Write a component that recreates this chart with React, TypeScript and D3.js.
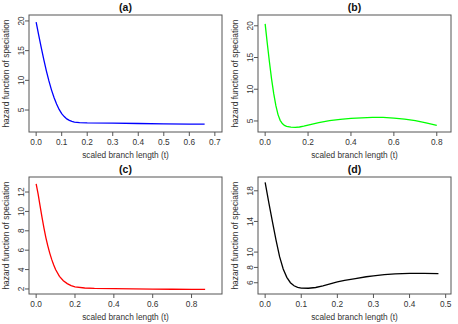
import React from "react";
import * as d3 from "d3";

const titles = ["(a)", "(b)", "(c)", "(d)"];
const colors = ["#0000FF", "#00FF00", "#FF0000", "#000000"];
const xLabel = "scaled branch length (t)";
const yLabel = "hazard function of speciation";

// x limits (before 4% padding)
const xLims: [number, number][] = [[0, 0.7], [0, 0.833], [0, 0.92], [0, 0.495]];
// y plot limits (already padded)
const yLims: [number, number][] = [[1.3, 21], [3.26, 21.7], [1.48, 13.55], [4.53, 19.8]];

const xTicks = [
  [0, 0.1, 0.2, 0.3, 0.4, 0.5, 0.6, 0.7],
  [0, 0.2, 0.4, 0.6, 0.8],
  [0, 0.2, 0.4, 0.6, 0.8],
  [0, 0.1, 0.2, 0.3, 0.4, 0.5],
];
const yTicks = [
  [5, 10, 15, 20],
  [5, 10, 15, 20],
  [2, 4, 6, 8, 10, 12],
  [6, 8, 10, 14, 18],
];

const tA = [0, 0.01, 0.02, 0.03, 0.04, 0.05, 0.06, 0.07, 0.08, 0.09, 0.1, 0.11, 0.12, 0.13, 0.14, 0.15, 0.17, 0.2, 0.3, 0.4, 0.5, 0.6, 0.66];
const hA = [19.8, 17.6, 15.5, 13.5, 11.6, 9.9, 8.4, 7.1, 6.0, 5.1, 4.4, 3.9, 3.5, 3.25, 3.08, 2.98, 2.88, 2.83, 2.78, 2.73, 2.68, 2.64, 2.62];

const tB = [0, 0.01, 0.02, 0.03, 0.04, 0.05, 0.06, 0.07, 0.08, 0.09, 0.1, 0.12, 0.14, 0.16, 0.18, 0.2, 0.25, 0.3, 0.35, 0.4, 0.45, 0.5, 0.55, 0.6, 0.65, 0.7, 0.75, 0.8];
const hB = [20.3, 17.2, 14.3, 11.6, 9.3, 7.4, 6.0, 5.1, 4.6, 4.3, 4.15, 4.03, 4.0, 4.05, 4.18, 4.35, 4.75, 5.05, 5.25, 5.4, 5.5, 5.55, 5.55, 5.45, 5.3, 5.05, 4.7, 4.3];

const tC = [0, 0.01, 0.02, 0.03, 0.04, 0.05, 0.06, 0.07, 0.08, 0.09, 0.1, 0.12, 0.14, 0.16, 0.18, 0.2, 0.25, 0.3, 0.4, 0.5, 0.6, 0.7, 0.8, 0.87];
const hC = [12.85, 11.8, 10.6, 9.4, 8.3, 7.3, 6.45, 5.7, 5.05, 4.5, 4.0, 3.3, 2.85, 2.55, 2.35, 2.22, 2.1, 2.06, 2.03, 2.0, 1.98, 1.97, 1.96, 1.95];

const tD = [0, 0.01, 0.02, 0.03, 0.04, 0.05, 0.06, 0.07, 0.08, 0.09, 0.1, 0.12, 0.14, 0.16, 0.18, 0.2, 0.22, 0.25, 0.28, 0.3, 0.33, 0.36, 0.4, 0.44, 0.48];
const hD = [19.1, 16.5, 14.0, 11.6, 9.4, 7.8, 6.7, 6.0, 5.6, 5.4, 5.3, 5.28, 5.38, 5.6, 5.85, 6.1, 6.3, 6.55, 6.78, 6.9, 7.05, 7.15, 7.22, 7.22, 7.18];

const times = [tA, tB, tC, tD];
const hazards = [hA, hB, hC, hD];

const W = 458, H = 324;
const PW = 229, PH = 162;
const box = { l: 29, r: 222, t: 15, b: 132 };
const font = "Liberation Sans, Arial, Helvetica, sans-serif";
const axisColor = "#555";
const textColor = "#333";

function Panel({ i }: { i: number }) {
  const ox = (i % 2) * PW;
  const oy = Math.floor(i / 2) * PH;
  const [x0, x1] = xLims[i];
  const pad = (x1 - x0) * 0.04;
  const x = d3.scaleLinear().domain([x0 - pad, x1 + pad]).range([box.l, box.r]);
  const y = d3.scaleLinear().domain(yLims[i]).range([box.b, box.t]);
  const pts: [number, number][] = times[i].map((t, k) => [t, hazards[i][k]]);
  const line = d3.line<[number, number]>().x((d) => x(d[0])).y((d) => y(d[1]));
  const xt = xTicks[i];
  const yt = yTicks[i];
  return (
    <g transform={`translate(${ox},${oy})`} fontFamily={font}>
      <text x={(box.l + box.r) / 2} y={11} textAnchor="middle" fontWeight="bold" fontSize={10.5} fill="#111">
        {titles[i]}
      </text>
      <path d={line(pts) || ""} fill="none" stroke={colors[i]} strokeWidth={1.3} />
      <rect x={box.l} y={box.t} width={box.r - box.l} height={box.b - box.t} fill="none" stroke={axisColor} strokeWidth={1} />
      {xt.map((v) => (
        <g key={"x" + v}>
          <line x1={x(v)} x2={x(v)} y1={box.b} y2={box.b + 4} stroke={axisColor} />
          <text x={x(v)} y={145} textAnchor="middle" fontSize={8.3} fill={textColor}>
            {v.toFixed(1)}
          </text>
        </g>
      ))}
      {yt.map((v) => (
        <g key={"y" + v}>
          <line x1={box.l - 4} x2={box.l} y1={y(v)} y2={y(v)} stroke={axisColor} />
          <text
            transform={`translate(${box.l - 8.5},${y(v)}) rotate(-90)`}
            textAnchor="middle"
            dominantBaseline="central"
            fontSize={8.3}
            fill={textColor}
          >
            {v}
          </text>
        </g>
      ))}
      <text x={(box.l + box.r) / 2} y={158} textAnchor="middle" fontSize={8.3} fill={textColor}>
        {xLabel}
      </text>
      <text
        transform={`translate(6,${(box.t + box.b) / 2}) rotate(-90)`}
        textAnchor="middle"
        dominantBaseline="central"
        fontSize={8.5}
        fill={textColor}
      >
        {yLabel}
      </text>
    </g>
  );
}

export default function App() {
  return (
    <div style={{ position: "absolute", left: 0, top: 0 }}>
      <svg width={W} height={H} style={{ display: "block", background: "#fff" }}>
        {[0, 1, 2, 3].map((i) => (
          <Panel key={i} i={i} />
        ))}
      </svg>
    </div>
  );
}
